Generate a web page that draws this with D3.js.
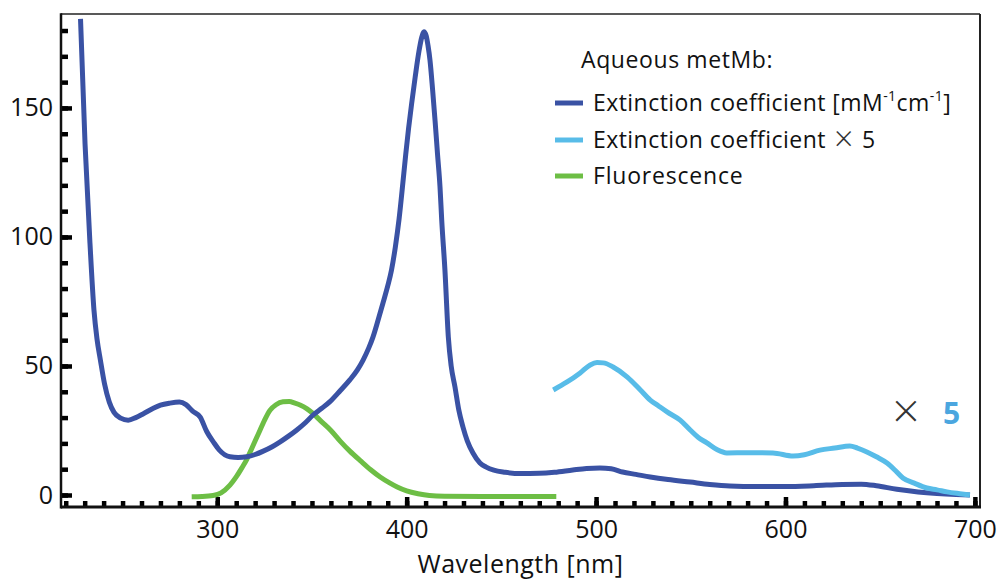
<!DOCTYPE html>
<html>
<head>
<meta charset="utf-8">
<script src="https://cdn.jsdelivr.net/npm/d3@7"></script>
<style>
  body { margin: 0; background: #fff; }
  svg { display: block; font-family: "Open Sans", sans-serif; }
</style>
</head>
<body>
<div id="chart"></div>
<script>
// Extinction coefficient of aqueous metMb [mM^-1 cm^-1]
const ecWavelength = [227.8, 230.2, 232.8, 234.9, 236.5, 238.3, 240.5, 243, 245.5, 249, 253, 257, 261, 266, 270, 275, 280, 283.5, 287, 291, 294.5, 298, 301, 306.7, 311, 315.6, 320, 324, 329, 333, 338, 342, 346.5, 350.6, 355, 359.5, 365, 370, 374, 377, 380, 382.2, 385, 387.5, 390, 392, 394, 396, 398, 399.5, 401, 402.6, 404.5, 406.5, 408, 409.1, 410.3, 411.3, 412.3, 413.7, 415, 416.3, 417.6, 418.5, 420.2, 422, 423.5, 425.5, 427.5, 429.7, 432, 435, 438.7, 442, 446, 452, 460, 470, 478, 487.7, 495, 502, 508, 514, 521, 528.6, 538, 549.7, 560, 570.6, 585, 600, 615, 630, 640, 648, 658.8, 670, 680, 690, 697.4];
const ecValue = [184.5, 136, 97.5, 71.7, 60.5, 52.3, 43, 36, 32, 29.8, 29, 30, 31.5, 33.5, 34.8, 35.6, 36, 35, 32.5, 30.2, 24.5, 20.5, 17.5, 14.8, 14.5, 14.8, 15.7, 16.9, 18.7, 20.5, 23, 25.2, 28, 31, 33.5, 36.2, 40.5, 44.6, 48.5, 52.3, 57, 61.2, 68, 74.4, 81, 87.2, 96, 107, 121, 132, 142, 151.5, 162, 172, 177.5, 179.5, 178, 174, 168.6, 157, 145, 132, 119.4, 106.6, 87.2, 61.2, 50, 41.9, 33, 26.4, 21, 16.3, 12.4, 10.8, 9.6, 8.8, 8.3, 8.4, 8.8, 9.7, 10.3, 10.5, 10.2, 8.9, 8, 7, 6, 5, 4.1, 3.5, 3.3, 3.3, 3.6, 4.1, 4.2, 3.6, 2.2, 1.2, 0.6, 0.2, 0];

// Extinction coefficient x 5 (visible range)
const ec5Wavelength = [477.4, 484.7, 491.6, 496.9, 500.5, 503.8, 509, 516.5, 523.4, 528.6, 533, 537.5, 544.4, 549.7, 554, 558.5, 564, 569, 580, 593.4, 604, 610, 618.2, 626, 634, 638, 643, 648, 653.6, 658, 662, 668, 674.7, 680, 685.3, 692, 697.4];
const ec5Value = [40.7, 43.8, 47.3, 50.4, 51.3, 51.2, 49.6, 45.7, 40.7, 36.8, 34.5, 32.2, 29, 25.2, 22.3, 20.2, 17.5, 16.3, 16.4, 16.3, 15.1, 15.6, 17.4, 18.2, 19, 18.2, 16.7, 14.8, 12.4, 9.5, 6.6, 4.6, 2.7, 2, 1.2, 0.5, 0];

// Fluorescence
const flWavelength = [286.5, 292, 297.8, 302, 306.7, 310, 313, 315.6, 318.5, 322.5, 325.5, 327.8, 331, 334.7, 338, 341, 344, 347.4, 351, 354.2, 360, 365, 370, 376, 381, 386, 391, 395, 400, 406, 412, 420, 440, 479];
const flValue = [-0.7, -0.6, -0.2, 0.8, 3.8, 7, 10.5, 13.8, 18.5, 25, 29.8, 32.8, 35, 36.1, 36.2, 35.6, 34.8, 33.4, 31.3, 29, 25, 20.8, 17, 13, 9.8, 7, 4.7, 3.1, 1.6, 0.5, -0.2, -0.5, -0.6, -0.6];

const xMajorTicks = [300, 400, 500, 600, 700];
const xMinorTicks = d3.range(220, 701, 10);
const yMajorTicks = [0, 50, 100, 150];
const yMinorTicks = d3.range(0, 181, 10);

const legendLabels = ["Extinction coefficient", "Extinction coefficient", "Fluorescence"];

const width = 1000, height = 579;
const mLeft = 61, mRight = 980, mTop = 14, mBottom = 507;

const colDark = "#3a52a4", colLight = "#58bce8", colGreen = "#6dbe45";

const x = d3.scaleLinear().domain([217.5, 702.7]).range([mLeft, mRight]);
const y = d3.scaleLinear().domain([-4.65, 186.4]).range([mBottom, mTop]);

const svg = d3.select("#chart").append("svg")
  .attr("width", width)
  .attr("height", height);

svg.append("rect").attr("width", width).attr("height", height).attr("fill", "#fff");

// axes: minor + major ticks, pointing inward
function styleTicks(g, w) {
  g.select(".domain").remove();
  g.selectAll(".tick line").attr("stroke", "#000").attr("stroke-width", w);
  g.selectAll(".tick text").attr("fill", "#111").attr("font-size", 25)
    .attr("font-family", "Open Sans, sans-serif");
}

svg.append("g").attr("transform", `translate(0,${mBottom})`)
  .call(d3.axisBottom(x).tickValues(xMinorTicks).tickSize(-6).tickFormat(""))
  .call(g => styleTicks(g, 4.5));
svg.append("g").attr("transform", `translate(0,${mBottom})`)
  .call(d3.axisBottom(x).tickValues(xMajorTicks).tickSize(-10).tickPadding(13))
  .call(g => styleTicks(g, 4.5));

svg.append("g").attr("transform", `translate(${mLeft},0)`)
  .call(d3.axisLeft(y).tickValues(yMinorTicks).tickSize(-7).tickFormat(""))
  .call(g => styleTicks(g, 4.5));
svg.append("g").attr("transform", `translate(${mLeft},0)`)
  .call(d3.axisLeft(y).tickValues(yMajorTicks).tickSize(-11).tickPadding(8))
  .call(g => styleTicks(g, 4.5));

// frame
svg.append("line").attr("x1", mLeft).attr("x2", mRight).attr("y1", mTop).attr("y2", mTop)
  .attr("stroke", "#222").attr("stroke-width", 1.5);
svg.append("line").attr("x1", mRight).attr("x2", mRight).attr("y1", mTop).attr("y2", mBottom)
  .attr("stroke", "#222").attr("stroke-width", 2);
svg.append("line").attr("x1", mLeft).attr("x2", mLeft).attr("y1", mTop - 0.75).attr("y2", mBottom + 1.5)
  .attr("stroke", "#111").attr("stroke-width", 2.5);
svg.append("line").attr("x1", mLeft).attr("x2", mRight + 1).attr("y1", mBottom).attr("y2", mBottom)
  .attr("stroke", "#111").attr("stroke-width", 3);

// axis title
svg.append("text")
  .attr("x", (mLeft + mRight) / 2)
  .attr("y", 573)
  .attr("text-anchor", "middle")
  .attr("font-size", 25)
  .attr("letter-spacing", 0.5)
  .attr("fill", "#111")
  .text("Wavelength [nm]");

// curves
const line = d3.line()
  .x(d => x(d[0]))
  .y(d => y(d[1]))
  .curve(d3.curveMonotoneX);

const series = [
  { w: flWavelength, v: flValue, color: colGreen },
  { w: ecWavelength, v: ecValue, color: colDark },
  { w: ec5Wavelength, v: ec5Value, color: colLight }
];

svg.append("g")
  .selectAll("path")
  .data(series)
  .join("path")
  .attr("fill", "none")
  .attr("stroke", d => d.color)
  .attr("stroke-width", 5)
  .attr("stroke-linejoin", "round")
  .attr("d", d => line(d3.zip(d.w, d.v)));

// legend
const legend = svg.append("g").attr("font-size", 23).attr("letter-spacing", 0.45).attr("fill", "#111");
legend.append("text").attr("x", 581).attr("y", 68).attr("letter-spacing", 0.6).text("Aqueous metMb:");

const legendColors = [colDark, colLight, colGreen];
const legendY = [103, 140, 176];
legendLabels.forEach((lab, i) => {
  legend.append("line")
    .attr("x1", 555).attr("x2", 583)
    .attr("y1", legendY[i]).attr("y2", legendY[i])
    .attr("stroke", legendColors[i]).attr("stroke-width", 5);
  const t = legend.append("text")
    .attr("x", 593).attr("y", legendY[i] + 8)
    .text(lab);
  if (i === 0) {
    t.append("tspan").text(" [mM");
    t.append("tspan").attr("dy", -10).attr("font-size", 14).text("-1");
    t.append("tspan").attr("dy", 10).text("cm");
    t.append("tspan").attr("dy", -10).attr("font-size", 14).text("-1");
    t.append("tspan").attr("dy", 10).text("]");
  }
  if (i === 2) t.attr("letter-spacing", 0.8);
});
// "x 5" suffix of the second legend entry
legend.append("text")
  .attr("x", 844).attr("y", 151)
  .attr("text-anchor", "middle")
  .attr("font-size", 34).attr("font-weight", 300).attr("fill", "#333")
  .text("\u00d7");
legend.append("text").attr("x", 862).attr("y", 148).text("5");

// "x 5" marker near the scaled curve
svg.append("text")
  .attr("x", 906).attr("y", 428)
  .attr("text-anchor", "middle")
  .attr("font-size", 48)
  .attr("font-weight", 300)
  .attr("fill", "#333")
  .text("\u00d7");
svg.append("text")
  .attr("x", 943).attr("y", 424)
  .attr("font-size", 30)
  .attr("font-weight", "bold")
  .attr("fill", "#4ba6df")
  .text("5");
</script>
</body>
</html>
